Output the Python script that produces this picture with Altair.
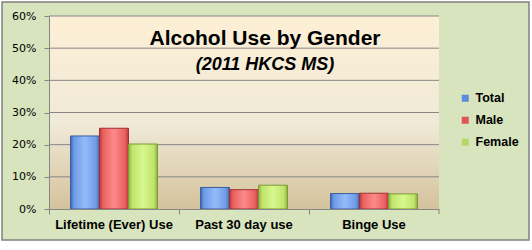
import altair as alt
import pandas as pd

categories = ["Lifetime (Ever) Use", "Past 30 day use", "Binge Use"]
series = ["Total", "Male", "Female"]
total = [22.7, 6.7, 4.8]
male = [25.1, 6.0, 4.9]
female = [20.2, 7.4, 4.7]
grid_values = [10, 20, 30, 40, 50, 60]
y_ticks = [0, 10, 20, 30, 40, 50, 60]

rows = []
for i, c in enumerate(categories):
    for s, vals in zip(series, [total, male, female]):
        rows.append({"cat": c, "series": s, "value": vals[i]})
df = pd.DataFrame(rows)

W, H = 390, 193

y_axis = alt.Axis(title=None, values=y_ticks, labelExpr="datum.value + '%'",
                  labelFont="DejaVu Sans", labelFontSize=11, labelColor="#000000",
                  labelPadding=8, labelOverlap=False, domainColor="#868686",
                  tickColor="#868686", tickSize=5, zindex=1, grid=False)
y_scale = alt.Scale(domain=[0, 60], nice=False)

x_enc = alt.X("cat:N", sort=categories,
              scale=alt.Scale(paddingInner=0, paddingOuter=0),
              axis=alt.Axis(title=None, labelFont="Liberation Sans", labelFontSize=13,
                            labelFontWeight="bold", labelColor="#000000", labelPadding=4,
                            domainColor="#868686", tickColor="#868686", tickSize=5,
                            bandPosition=0, labelAngle=0, zindex=1, grid=False))
xo_enc = alt.XOffset("series:N", sort=series,
                     scale=alt.Scale(domain=series, paddingInner=0, paddingOuter=0.741))
y_enc = alt.Y("value:Q", scale=y_scale, axis=y_axis)

one = pd.DataFrame({"k": [0]})

outer = alt.Chart(one).mark_rect(fill="#D7E4BD", stroke="#808080", strokeWidth=1.5).encode(
    x=alt.value(-47), x2=alt.value(480), y=alt.value(-14), y2=alt.value(224))

plot_bg = alt.Chart(one).mark_rect(
    fill=alt.LinearGradient(gradient="linear", x1=0, y1=0, x2=0, y2=1,
                            stops=[alt.GradientStop(offset=0, color="#FDEFD5"),
                                   alt.GradientStop(offset=0.55, color="#F0EAD8"),
                                   alt.GradientStop(offset=1, color="#D5C29C")])
).encode(x=alt.value(0), x2=alt.value(W), y=alt.value(0), y2=alt.value(H))

grid = alt.Chart(pd.DataFrame({"value": grid_values})).mark_rule(
    color="#868686", strokeWidth=1).encode(y=alt.Y("value:Q", scale=y_scale, axis=y_axis))

end_tick = alt.Chart(one).mark_rule(color="#868686", strokeWidth=1).encode(
    x=alt.value(W), y=alt.value(H), y2=alt.value(H + 5))

def grad(dark, mid, light):
    return alt.LinearGradient(gradient="linear", x1=0, y1=0, x2=1, y2=0,
                              stops=[alt.GradientStop(offset=0, color=dark),
                                     alt.GradientStop(offset=0.12, color=mid),
                                     alt.GradientStop(offset=0.5, color=light),
                                     alt.GradientStop(offset=0.88, color=mid),
                                     alt.GradientStop(offset=1, color=dark)])

styles = {
    "Total": ("#3C66B4", "#6F9BE6", "#94BCF9", "#3A5F9E"),
    "Male": ("#B83838", "#EA6060", "#FB8A8A", "#A33030"),
    "Female": ("#8AAE3A", "#BFE46C", "#D9F78E", "#7C9A36"),
}

bar_layers = []
for s in series:
    d, m, l, st = styles[s]
    bar_layers.append(
        alt.Chart(df).transform_filter(alt.datum.series == s).mark_bar(
            fill=grad(d, m, l), stroke=st, strokeWidth=1
        ).encode(x=x_enc, xOffset=xo_enc, y=y_enc)
    )

legend_layer = alt.Chart(df).mark_bar(opacity=0).encode(
    x=x_enc, xOffset=xo_enc, y=y_enc,
    color=alt.Color("series:N", sort=series,
                    scale=alt.Scale(domain=series, range=["#5B8BDB", "#E05555", "#B5D865"]),
                    legend=alt.Legend(title=None, orient="none", legendX=410, legendY=76,
                                      symbolType="square", symbolSize=49, symbolOpacity=1,
                                      symbolStrokeWidth=0, labelFont="Liberation Sans",
                                      labelFontSize=12.5, labelFontWeight="bold",
                                      labelColor="#000000", labelOffset=4, rowPadding=9,
                                      padding=0))
)

chart = alt.layer(outer, plot_bg, grid, end_tick, *bar_layers, legend_layer).properties(
    width=W, height=H,
    autosize=alt.AutoSizeParams(type="none"),
    padding={"left": 49, "top": 16, "right": 93, "bottom": 41},
    background="#FFFFFF",
    title=alt.TitleParams(text="Alcohol Use by Gender", subtitle="(2011 HKCS MS)",
                          anchor="middle", frame="group", dx=21, offset=-73,
                          font="Liberation Sans", fontSize=21, fontWeight="bold", color="#000000",
                          subtitleFont="Liberation Sans", subtitleFontSize=18,
                          subtitleFontWeight="bold", subtitleFontStyle="italic",
                          subtitleColor="#000000", subtitlePadding=7, zindex=1)
).configure_view(stroke=None)

chart.save("out.html", embed_options={"renderer": "svg", "actions": False})
